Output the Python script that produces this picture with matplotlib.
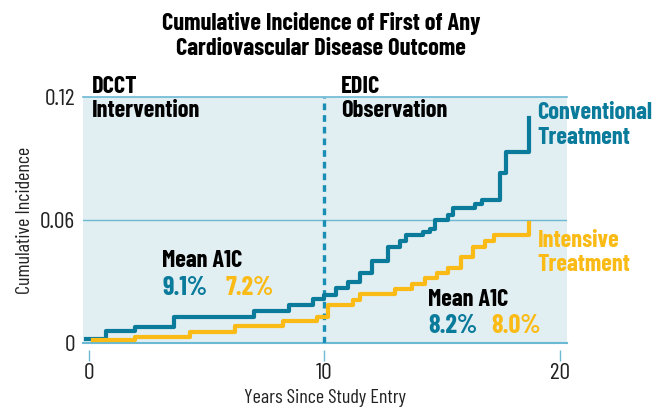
import numpy as np
import matplotlib
matplotlib.use("Agg")
import matplotlib.pyplot as plt

plt.rcParams['font.family'] = ['Barlow Condensed', 'DejaVu Sans']

# step data (years, cumulative incidence)
conv_t = [-0.15, 0.7, 1.95, 3.6, 7.0, 8.5, 9.5, 10.0, 10.5, 11.0, 11.5, 12.0,
          12.7, 13.2, 13.45, 14.2, 14.5, 14.7, 15.25, 15.45, 16.4, 16.7, 17.45, 17.7, 18.7]
conv_v = [0.0020, 0.0060, 0.0078, 0.0130, 0.0156, 0.0185, 0.0215, 0.0234, 0.0268, 0.0300,
          0.0340, 0.0400, 0.0470, 0.0500, 0.0527, 0.0540, 0.0555, 0.0600, 0.0625, 0.0660,
          0.0680, 0.0700, 0.0830, 0.0930, 0.1100]
int_t = [0.17, 1.95, 4.3, 6.2, 8.25, 9.7, 10.15, 11.2, 11.5, 13.0, 13.7, 14.27,
         14.8, 15.25, 15.8, 16.3, 16.8, 17.2, 18.7]
int_v = [0.0015, 0.0030, 0.0054, 0.0083, 0.0110, 0.0130, 0.0185, 0.0210, 0.0240, 0.0263,
         0.0290, 0.0317, 0.0340, 0.0366, 0.0420, 0.0470, 0.0500, 0.0527, 0.0586]

blue = '#0b7b9c'
gold = '#fbbb17'
pale = '#6cb9d3'

fig = plt.figure(figsize=[6.6, 4.11], dpi=100)
ax = fig.add_axes([0.126, 0.165, 0.733, 0.599], xlim=(-0.25, 20.3), ylim=(0, 0.12))
ax.set_facecolor('#e1eef2')
for s in ['left', 'right', 'bottom']:
    ax.spines[s].set_visible(False)
ax.spines['bottom'].set_position(('outward', 5))
ax.spines['top'].set_color(pale)
ax.spines['top'].set_linewidth(1.2)

ax.axhline(0, color=pale, lw=1.5, clip_on=False)
ax.axhline(0.06, color=pale, lw=1)
ax.axvline(10, color='#1a8fb5', lw=2.4, ls=(0, (2, 1.5)))

ax.step(conv_t, conv_v, where='post', color=blue, lw=3)
ax.step(int_t, int_v, where='post', color=gold, lw=3)

ax.set_xticks([0, 10, 20])
ax.set_yticks([0, 0.06, 0.12])
ax.set_yticklabels(['0', '0.06', '0.12'])
ax.tick_params(axis='x', colors=pale, length=8, width=1, pad=1, labelcolor='#222222', labelsize=17)
ax.tick_params(axis='y', length=0, pad=6, labelcolor='#222222', labelsize=17)
ax.set_xlabel('Years Since Study Entry', fontsize=14.5, color='#222222', labelpad=4)
ax.set_ylabel('Cumulative Incidence', fontsize=14.5, color='#222222', labelpad=4)

fig.suptitle('Cumulative Incidence of First of Any\nCardiovascular Disease Outcome',
             x=0.487, y=0.972, fontsize=17.5, fontweight='bold', linespacing=1.2)

bold = dict(fontweight='bold', fontsize=17.5, clip_on=False)
ax.text(0.1, 0.1250, 'DCCT', va='center', **bold)
ax.text(0.1, 0.1130, 'Intervention', va='center', **bold)
ax.text(10.7, 0.1250, 'EDIC', va='center', **bold)
ax.text(10.7, 0.1130, 'Observation', va='center', **bold)

ax.text(19.05, 0.1120, 'Conventional', color=blue, va='center', **bold)
ax.text(19.05, 0.1000, 'Treatment', color=blue, va='center', **bold)
ax.text(19.05, 0.0500, 'Intensive', color=gold, va='center', **bold)
ax.text(19.05, 0.0380, 'Treatment', color=gold, va='center', **bold)

pct = dict(fontweight='bold', fontsize=19, clip_on=False)
ax.text(3.1, 0.0400, 'Mean A1C', va='center', **bold)
ax.text(3.1, 0.0270, '9.1%', color=blue, va='center', **pct)
ax.text(5.8, 0.0270, '7.2%', color=gold, va='center', **pct)
ax.text(14.4, 0.0210, 'Mean A1C', va='center', **bold)
ax.text(14.4, 0.0083, '8.2%', color=blue, va='center', **pct)
ax.text(17.1, 0.0083, '8.0%', color=gold, va='center', **pct)

plt.savefig('out.png', dpi=100)
